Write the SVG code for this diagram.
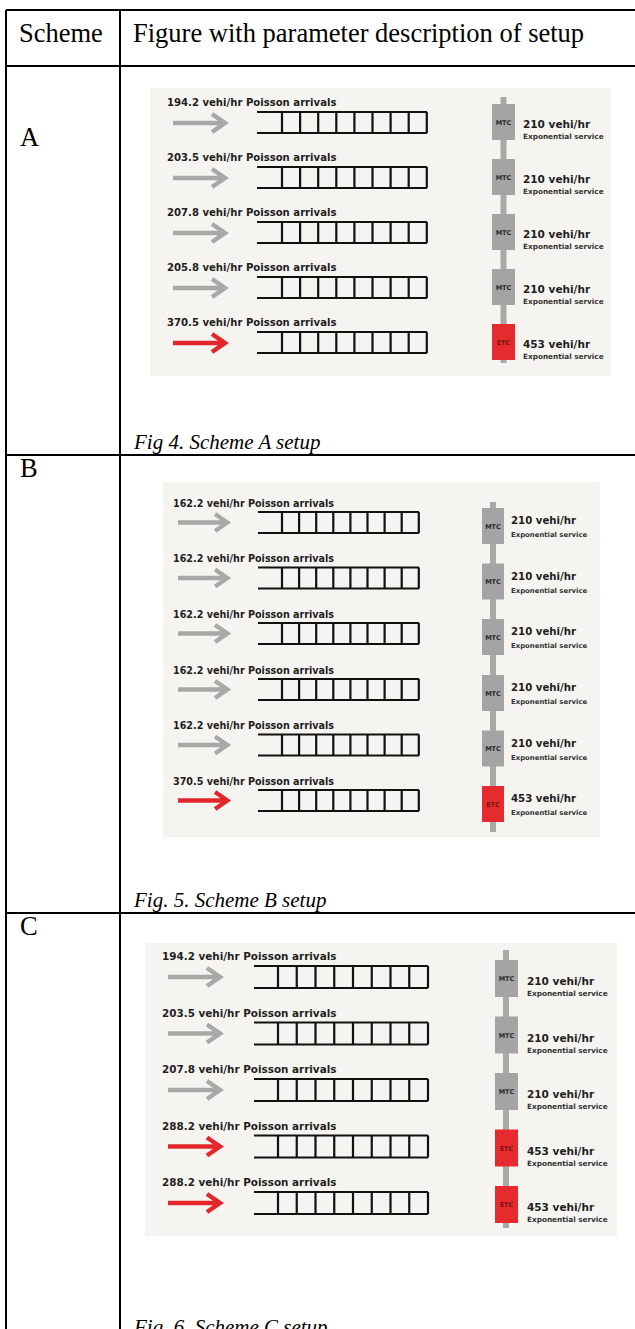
<svg xmlns="http://www.w3.org/2000/svg" width="635" height="1329" viewBox="0 0 635 1329">
<style>
  .grid{stroke:#000;stroke-width:2;fill:none}
  .th{font-family:"Liberation Serif",serif;font-size:26.5px;fill:#000}
  .cap{font-family:"Liberation Serif",serif;font-style:italic;font-size:21px;fill:#000}
  .panel{fill:#f6f4f1}
  .ag{stroke:#a8a8a8}
  .ar{stroke:#e3262b}
  .q{stroke:#111;stroke-width:2.2;fill:none}
  .lane{font-family:"DejaVu Sans",sans-serif;font-weight:bold;fill:#1e1e1e}
  .svc{font-family:"DejaVu Sans",sans-serif;font-weight:bold;fill:#1e1e1e}
  .sub{font-family:"DejaVu Sans",sans-serif;font-weight:bold;fill:#333}
  .bar{fill:#a9a9a9}
  .mtc{fill:#a4a4a4}
  .etc{fill:#e52b2e}
  .tag{font-family:"DejaVu Sans",sans-serif;font-weight:bold;font-size:6.5px;text-anchor:middle}
  .tm{fill:#2a2a2a}
  .te{fill:#7a1212}
</style>
<defs>
  <path id="arw" d="M0,0 H49 M39,-9 L52,0 L39,9" fill="none" stroke-width="4.5"/>
  <path id="qa" d="M0,0 H170 M0,21 H170 M25,0 V21 M43.1,0 V21 M61.2,0 V21 M79.3,0 V21 M97.4,0 V21 M115.5,0 V21 M133.6,0 V21 M151.7,0 V21 M169.8,0 V21"/>
  <path id="qb" d="M0,0 H161 M0,21 H161 M24,0 V21 M41.1,0 V21 M58.2,0 V21 M75.3,0 V21 M92.4,0 V21 M109.5,0 V21 M126.6,0 V21 M143.7,0 V21 M160.8,0 V21"/>
  <path id="qc" d="M0,0 H174 M0,22 H174 M24,0 V22 M42.75,0 V22 M61.5,0 V22 M80.25,0 V22 M99,0 V22 M117.75,0 V22 M136.5,0 V22 M155.25,0 V22 M174,0 V22"/>
</defs>

<!-- table frame -->
<g id="table" class="grid">
  <path d="M6,10 H635 M6,10 V1329 M120,10 V1329 M6,66 H635 M6,455 H635 M6,913 H635"/>
</g>
<g id="table-text">
  <text class="th" x="19" y="42">Scheme</text>
  <text class="th" x="133" y="42">Figure with parameter description of setup</text>
  <text class="th" x="20" y="146">A</text>
  <text class="th" x="20" y="477">B</text>
  <text class="th" x="20" y="935">C</text>
  <text class="cap" x="134" y="449">Fig 4. Scheme A setup</text>
  <text class="cap" x="134" y="907">Fig. 5. Scheme B setup</text>
  <text class="cap" x="134" y="1334">Fig. 6. Scheme C setup</text>
</g>

<!-- Scheme A: four manual lanes and one electronic lane -->
<g id="schemeA">
  <rect class="panel" x="150" y="88" width="461" height="288"/>
  <g id="connectorsA">
    <rect class="bar" x="500.5" y="97" width="6" height="266"/>
    <use href="#arw" class="ag" transform="translate(173,123)"/>
    <use href="#arw" class="ag" transform="translate(173,178)"/>
    <use href="#arw" class="ag" transform="translate(173,233)"/>
    <use href="#arw" class="ag" transform="translate(173,288)"/>
    <use href="#arw" class="ar" transform="translate(173,343)"/>
  </g>
  <g id="A-lane1">
    <text class="lane" font-size="10.1" x="167" y="106">194.2 vehi/hr Poisson arrivals</text>
    <use href="#qa" class="q" x="257" y="112"/>
    <rect class="mtc" x="492" y="104" width="23" height="36"/>
    <text class="tag tm" x="503.5" y="124.5">MTC</text>
    <text class="svc" font-size="10.5" x="523" y="127.5">210 vehi/hr</text>
    <text class="sub" font-size="7.3" x="523" y="139">Exponential service</text>
  </g>
  <g id="A-lane2">
    <text class="lane" font-size="10.1" x="167" y="161">203.5 vehi/hr Poisson arrivals</text>
    <use href="#qa" class="q" x="257" y="167"/>
    <rect class="mtc" x="492" y="159" width="23" height="36"/>
    <text class="tag tm" x="503.5" y="179.5">MTC</text>
    <text class="svc" font-size="10.5" x="523" y="182.5">210 vehi/hr</text>
    <text class="sub" font-size="7.3" x="523" y="194">Exponential service</text>
  </g>
  <g id="A-lane3">
    <text class="lane" font-size="10.1" x="167" y="216">207.8 vehi/hr Poisson arrivals</text>
    <use href="#qa" class="q" x="257" y="222"/>
    <rect class="mtc" x="492" y="214" width="23" height="36"/>
    <text class="tag tm" x="503.5" y="234.5">MTC</text>
    <text class="svc" font-size="10.5" x="523" y="237.5">210 vehi/hr</text>
    <text class="sub" font-size="7.3" x="523" y="249">Exponential service</text>
  </g>
  <g id="A-lane4">
    <text class="lane" font-size="10.1" x="167" y="271">205.8 vehi/hr Poisson arrivals</text>
    <use href="#qa" class="q" x="257" y="277"/>
    <rect class="mtc" x="492" y="269" width="23" height="36"/>
    <text class="tag tm" x="503.5" y="289.5">MTC</text>
    <text class="svc" font-size="10.5" x="523" y="292.5">210 vehi/hr</text>
    <text class="sub" font-size="7.3" x="523" y="304">Exponential service</text>
  </g>
  <g id="A-lane5">
    <text class="lane" font-size="10.1" x="167" y="326">370.5 vehi/hr Poisson arrivals</text>
    <use href="#qa" class="q" x="257" y="332"/>
    <rect class="etc" x="492" y="324" width="23" height="36"/>
    <text class="tag te" x="503.5" y="344.5">ETC</text>
    <text class="svc" font-size="10.5" x="523" y="347.5">453 vehi/hr</text>
    <text class="sub" font-size="7.3" x="523" y="359">Exponential service</text>
  </g>
</g>

<!-- Scheme B: five manual lanes and one electronic lane -->
<g id="schemeB">
  <rect class="panel" x="163" y="482" width="437" height="355"/>
  <g id="connectorsB">
    <rect class="bar" x="490" y="502" width="6" height="330"/>
    <use href="#arw" class="ag" transform="translate(178,522.5) scale(0.95)"/>
    <use href="#arw" class="ag" transform="translate(178,578) scale(0.95)"/>
    <use href="#arw" class="ag" transform="translate(178,633.5) scale(0.95)"/>
    <use href="#arw" class="ag" transform="translate(178,689.5) scale(0.95)"/>
    <use href="#arw" class="ag" transform="translate(178,745) scale(0.95)"/>
    <use href="#arw" class="ar" transform="translate(178,800.5) scale(0.95)"/>
  </g>
  <g id="B-lane1">
    <text class="lane" font-size="9.6" x="173" y="506.5">162.2 vehi/hr Poisson arrivals</text>
    <use href="#qb" class="q" x="258" y="512"/>
    <rect class="mtc" x="482" y="508" width="22" height="36"/>
    <text class="tag tm" x="493" y="528.5">MTC</text>
    <text class="svc" font-size="10.2" x="511" y="524">210 vehi/hr</text>
    <text class="sub" font-size="6.9" x="511" y="537">Exponential service</text>
  </g>
  <g id="B-lane2">
    <text class="lane" font-size="9.6" x="173" y="562">162.2 vehi/hr Poisson arrivals</text>
    <use href="#qb" class="q" x="258" y="567.5"/>
    <rect class="mtc" x="482" y="563.5" width="22" height="36"/>
    <text class="tag tm" x="493" y="584">MTC</text>
    <text class="svc" font-size="10.2" x="511" y="579.5">210 vehi/hr</text>
    <text class="sub" font-size="6.9" x="511" y="592.5">Exponential service</text>
  </g>
  <g id="B-lane3">
    <text class="lane" font-size="9.6" x="173" y="617.5">162.2 vehi/hr Poisson arrivals</text>
    <use href="#qb" class="q" x="258" y="623"/>
    <rect class="mtc" x="482" y="619" width="22" height="36"/>
    <text class="tag tm" x="493" y="639.5">MTC</text>
    <text class="svc" font-size="10.2" x="511" y="635">210 vehi/hr</text>
    <text class="sub" font-size="6.9" x="511" y="648">Exponential service</text>
  </g>
  <g id="B-lane4">
    <text class="lane" font-size="9.6" x="173" y="673.5">162.2 vehi/hr Poisson arrivals</text>
    <use href="#qb" class="q" x="258" y="679"/>
    <rect class="mtc" x="482" y="675" width="22" height="36"/>
    <text class="tag tm" x="493" y="695.5">MTC</text>
    <text class="svc" font-size="10.2" x="511" y="691">210 vehi/hr</text>
    <text class="sub" font-size="6.9" x="511" y="704">Exponential service</text>
  </g>
  <g id="B-lane5">
    <text class="lane" font-size="9.6" x="173" y="729">162.2 vehi/hr Poisson arrivals</text>
    <use href="#qb" class="q" x="258" y="734.5"/>
    <rect class="mtc" x="482" y="730.5" width="22" height="36"/>
    <text class="tag tm" x="493" y="751">MTC</text>
    <text class="svc" font-size="10.2" x="511" y="746.5">210 vehi/hr</text>
    <text class="sub" font-size="6.9" x="511" y="759.5">Exponential service</text>
  </g>
  <g id="B-lane6">
    <text class="lane" font-size="9.6" x="173" y="784.5">370.5 vehi/hr Poisson arrivals</text>
    <use href="#qb" class="q" x="258" y="790"/>
    <rect class="etc" x="482" y="786" width="22" height="36"/>
    <text class="tag te" x="493" y="806.5">ETC</text>
    <text class="svc" font-size="10.2" x="511" y="802">453 vehi/hr</text>
    <text class="sub" font-size="6.9" x="511" y="815">Exponential service</text>
  </g>
</g>

<!-- Scheme C: three manual lanes and two electronic lanes -->
<g id="schemeC">
  <rect class="panel" x="145" y="943" width="472" height="293"/>
  <g id="connectorsC">
    <rect class="bar" x="503" y="950" width="6" height="278"/>
    <use href="#arw" class="ag" transform="translate(168,977)"/>
    <use href="#arw" class="ag" transform="translate(168,1033.5)"/>
    <use href="#arw" class="ag" transform="translate(168,1090)"/>
    <use href="#arw" class="ar" transform="translate(168,1146.5)"/>
    <use href="#arw" class="ar" transform="translate(168,1203)"/>
  </g>
  <g id="C-lane1">
    <text class="lane" font-size="10.4" x="162" y="960">194.2 vehi/hr Poisson arrivals</text>
    <use href="#qc" class="q" x="254" y="966"/>
    <rect class="mtc" x="495" y="960" width="23" height="37"/>
    <text class="tag tm" x="506.5" y="981">MTC</text>
    <text class="svc" font-size="10.5" x="527" y="985">210 vehi/hr</text>
    <text class="sub" font-size="7.3" x="527" y="996">Exponential service</text>
  </g>
  <g id="C-lane2">
    <text class="lane" font-size="10.4" x="162" y="1016.5">203.5 vehi/hr Poisson arrivals</text>
    <use href="#qc" class="q" x="254" y="1022.5"/>
    <rect class="mtc" x="495" y="1016.5" width="23" height="37"/>
    <text class="tag tm" x="506.5" y="1037.5">MTC</text>
    <text class="svc" font-size="10.5" x="527" y="1041.5">210 vehi/hr</text>
    <text class="sub" font-size="7.3" x="527" y="1052.5">Exponential service</text>
  </g>
  <g id="C-lane3">
    <text class="lane" font-size="10.4" x="162" y="1073">207.8 vehi/hr Poisson arrivals</text>
    <use href="#qc" class="q" x="254" y="1079"/>
    <rect class="mtc" x="495" y="1073" width="23" height="37"/>
    <text class="tag tm" x="506.5" y="1094">MTC</text>
    <text class="svc" font-size="10.5" x="527" y="1098">210 vehi/hr</text>
    <text class="sub" font-size="7.3" x="527" y="1109">Exponential service</text>
  </g>
  <g id="C-lane4">
    <text class="lane" font-size="10.4" x="162" y="1129.5">288.2 vehi/hr Poisson arrivals</text>
    <use href="#qc" class="q" x="254" y="1135.5"/>
    <rect class="etc" x="495" y="1129.5" width="23" height="37"/>
    <text class="tag te" x="506.5" y="1150.5">ETC</text>
    <text class="svc" font-size="10.5" x="527" y="1154.5">453 vehi/hr</text>
    <text class="sub" font-size="7.3" x="527" y="1165.5">Exponential service</text>
  </g>
  <g id="C-lane5">
    <text class="lane" font-size="10.4" x="162" y="1186">288.2 vehi/hr Poisson arrivals</text>
    <use href="#qc" class="q" x="254" y="1192"/>
    <rect class="etc" x="495" y="1186" width="23" height="37"/>
    <text class="tag te" x="506.5" y="1207">ETC</text>
    <text class="svc" font-size="10.5" x="527" y="1211">453 vehi/hr</text>
    <text class="sub" font-size="7.3" x="527" y="1222">Exponential service</text>
  </g>
</g>
</svg>
